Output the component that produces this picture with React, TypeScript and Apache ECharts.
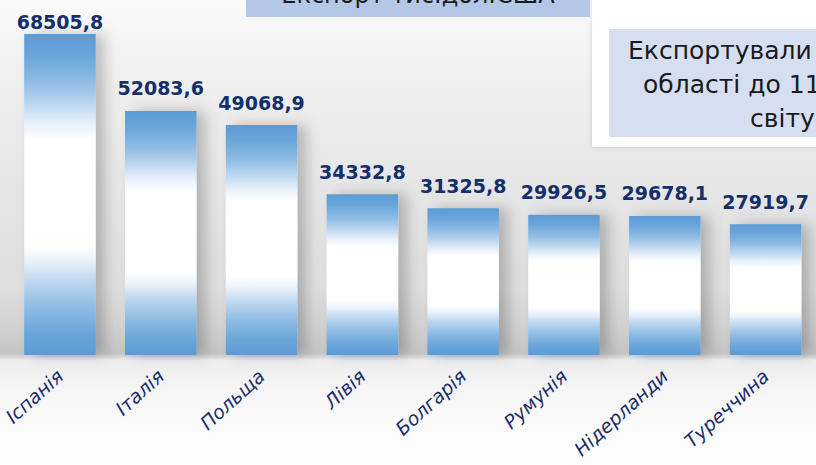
import React, { useEffect, useRef } from "react";
import * as echarts from "echarts";

const categories = ["Іспанія", "Італія", "Польща", "Лівія", "Болгарія", "Румунія", "Нідерланди", "Туреччина"];
const values = [68505.8, 52083.6, 49068.9, 34332.8, 31325.8, 29926.5, 29678.1, 27919.7];
const titleText = "Експорт тис.дол.США";
const noteLines = ["Експортували", "області до 11", "світу"];

export default function App() {
  const ref = useRef<HTMLDivElement>(null);
  useEffect(() => {
    document.body.style.margin = "0";
    const chart = echarts.init(ref.current!, null, { renderer: "svg" });
    const barFill = new echarts.graphic.LinearGradient(0, 0, 0, 1, [
      { offset: 0, color: "#5B9BD5" },
      { offset: 0.07, color: "#6BA6DA" },
      { offset: 0.15, color: "#8FBCE4" },
      { offset: 0.22, color: "#BDD7EF" },
      { offset: 0.28, color: "#E8F1FA" },
      { offset: 0.33, color: "#FFFFFF" },
      { offset: 0.66, color: "#FFFFFF" },
      { offset: 0.71, color: "#E8F1FA" },
      { offset: 0.77, color: "#BDD7EF" },
      { offset: 0.85, color: "#8FBCE4" },
      { offset: 0.93, color: "#6BA6DA" },
      { offset: 1, color: "#5B9BD5" },
    ]);
    const bgFill = new echarts.graphic.LinearGradient(0, 0, 0, 1, [
      { offset: 0, color: "#FAFAFA" },
      { offset: 0.2, color: "#EEEEEE" },
      { offset: 0.45, color: "#E4E4E4" },
      { offset: 0.62, color: "#DEDEDE" },
      { offset: 0.7, color: "#D2D2D2" },
      { offset: 0.76, color: "#C4C4C4" },
      { offset: 0.775, color: "#EDEDED" },
      { offset: 0.85, color: "#F7F7F7" },
      { offset: 1, color: "#FFFFFF" },
    ]);
    const data = values.map((v, i) =>
      i === 0 ? { value: v, label: { distance: 3 } } : { value: v }
    );
    chart.setOption({
      animation: false,
      backgroundColor: "#FFFFFF",
      grid: { left: 9.5, width: 808, top: 27, bottom: 110, containLabel: false },
      xAxis: {
        type: "category",
        data: categories,
        axisLine: { show: false },
        axisTick: { show: false },
        axisLabel: {
          interval: 0,
          rotate: 42,
          margin: 18,
          color: "#1A2D6B",
          fontStyle: "italic",
          fontFamily: "DejaVu Sans",
          fontSize: 19,
        },
      },
      yAxis: {
        type: "value",
        min: 0,
        max: 70000,
        show: false,
        splitLine: { show: false },
      },
      series: [
        {
          type: "bar",
          data,
          barWidth: 71.5,
          itemStyle: {
            color: barFill,
            shadowColor: "rgba(0,0,0,0.22)",
            shadowBlur: 14,
            shadowOffsetX: 9,
            shadowOffsetY: 0,
          },
          label: {
            show: true,
            position: "top",
            distance: 13,
            color: "#14306B",
            fontFamily: "DejaVu Sans",
            fontWeight: "bold",
            fontSize: 19,
            formatter: (p: any) => Number(p.value).toFixed(1).replace(".", ","),
          },
        },
      ],
      graphic: [
        { type: "rect", z: -100, silent: true, shape: { x: 0, y: 0, width: 816, height: 465 }, style: { fill: bgFill } },
        { type: "rect", z: 100, silent: true, shape: { x: 592, y: -2, width: 230, height: 149 }, style: { fill: "#FFFFFF", shadowBlur: 4, shadowColor: "rgba(0,0,0,0.15)" } },
        { type: "rect", z: 101, silent: true, shape: { x: 609, y: 29, width: 215, height: 108 }, style: { fill: "#D6DEF2" } },
        { type: "text", z: 102, silent: true, style: { text: noteLines[0], x: 628, y: 50, fill: "#1A1A1A", font: "25px 'DejaVu Sans'", textVerticalAlign: "middle" } },
        { type: "text", z: 102, silent: true, style: { text: noteLines[1], x: 643, y: 84, fill: "#1A1A1A", font: "25px 'DejaVu Sans'", textVerticalAlign: "middle" } },
        { type: "text", z: 102, silent: true, style: { text: noteLines[2], x: 750, y: 118, fill: "#1A1A1A", font: "25px 'DejaVu Sans'", textVerticalAlign: "middle" } },
        { type: "rect", z: 100, silent: true, shape: { x: 246, y: -30, width: 344, height: 47 }, style: { fill: "#B4C7E7" } },
        { type: "text", z: 102, silent: true, style: { text: titleText, x: 418, y: -5, fill: "#1A1A1A", font: "24px 'DejaVu Sans'", textAlign: "center", textVerticalAlign: "middle" } },
      ],
    });
    return () => chart.dispose();
  }, []);
  return <div ref={ref} style={{ width: 816, height: 465 }} />;
}
